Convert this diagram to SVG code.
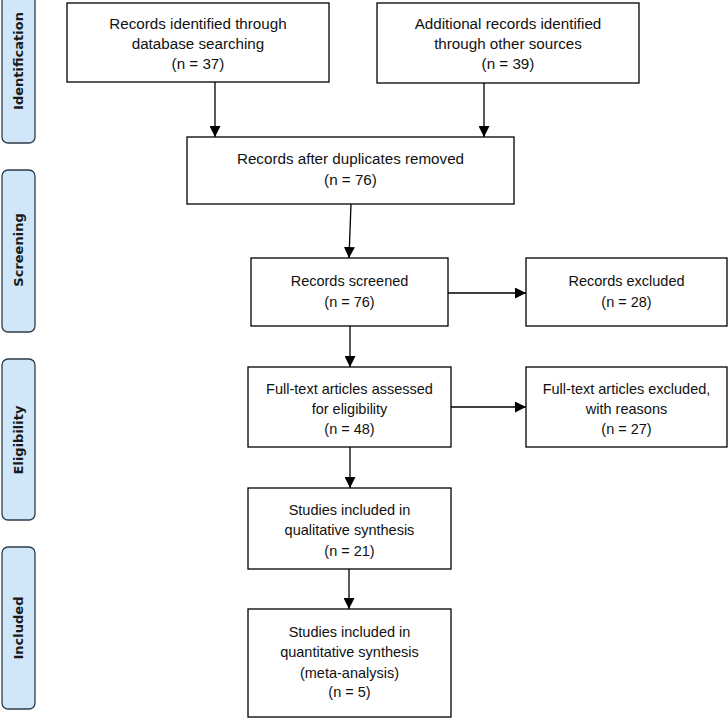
<svg xmlns="http://www.w3.org/2000/svg" width="728" height="718" viewBox="0 0 728 718">
<style>
.box{fill:#fff;stroke:#000;stroke-width:1.3}
.t{font-family:"Liberation Sans",Arial,sans-serif;font-size:14.5px;fill:#111;text-anchor:middle}
.t15{font-size:15.2px}
.phase{fill:#d0e7fa;stroke:#2e3b48;stroke-width:1.3}
.pt{font-family:"DejaVu Sans",Verdana,sans-serif;font-weight:bold;font-size:13px;fill:#1a1a1a;text-anchor:middle}
.c{stroke:#000;stroke-width:1.3;fill:none;marker-end:url(#ah)}
</style>
<defs>
<marker id="ah" markerUnits="userSpaceOnUse" markerWidth="11" markerHeight="11" refX="11" refY="5.5" orient="auto">
<path d="M0,0 L11,5.5 L0,11 z" fill="#000"/>
</marker>
</defs>
<rect width="728" height="718" fill="#fff"/>
<g id="phase-identification">
<rect class="phase" x="2" y="-21" width="33" height="164" rx="6"/>
<text class="pt" transform="translate(23,61) rotate(-90)">Identification</text>
</g>
<g id="phase-screening">
<rect class="phase" x="2" y="170" width="33" height="162" rx="6"/>
<text class="pt" transform="translate(23,250) rotate(-90)">Screening</text>
</g>
<g id="phase-eligibility">
<rect class="phase" x="2" y="359" width="33" height="161" rx="6"/>
<text class="pt" transform="translate(23,440) rotate(-90)">Eligibility</text>
</g>
<g id="phase-included">
<rect class="phase" x="2" y="547" width="33" height="162" rx="6"/>
<text class="pt" transform="translate(23,628) rotate(-90)">Included</text>
</g>
<g id="connectors">
<line class="c" x1="215" y1="82" x2="215" y2="137"/>
<line class="c" x1="484" y1="83" x2="484" y2="137"/>
<line class="c" x1="351" y1="204" x2="349" y2="258"/>
<line class="c" x1="350" y1="326" x2="350" y2="367"/>
<line class="c" x1="448" y1="293" x2="526" y2="293"/>
<line class="c" x1="350" y1="447" x2="350" y2="488"/>
<line class="c" x1="451" y1="407" x2="526" y2="407"/>
<line class="c" x1="349" y1="569" x2="349" y2="609"/>
</g>
<g id="n-db">
<rect class="box" x="67" y="3" width="262" height="79"/>
<text class="t t15" x="198" y="29">Records identified through</text>
<text class="t t15" x="198" y="49">database searching</text>
<text class="t t15" x="198" y="69">(n = 37)</text>
</g>
<g id="n-other">
<rect class="box" x="377" y="3" width="262" height="80"/>
<text class="t t15" x="508" y="29">Additional records identified</text>
<text class="t t15" x="508" y="49">through other sources</text>
<text class="t t15" x="508" y="69">(n = 39)</text>
</g>
<g id="n-dedup">
<rect class="box" x="187" y="137" width="327" height="67"/>
<text class="t t15" x="350.5" y="164">Records after duplicates removed</text>
<text class="t t15" x="350.5" y="185">(n = 76)</text>
</g>
<g id="n-screened">
<rect class="box" x="251" y="258" width="197" height="68"/>
<text class="t" x="349.5" y="286">Records screened</text>
<text class="t" x="349.5" y="307">(n = 76)</text>
</g>
<g id="n-excluded">
<rect class="box" x="526" y="258" width="201" height="68"/>
<text class="t" x="626.5" y="286">Records excluded</text>
<text class="t" x="626.5" y="307">(n = 28)</text>
</g>
<g id="n-fulltext">
<rect class="box" x="248" y="367" width="203" height="80"/>
<text class="t" x="349.5" y="394">Full-text articles assessed</text>
<text class="t" x="349.5" y="414">for eligibility</text>
<text class="t" x="349.5" y="434">(n = 48)</text>
</g>
<g id="n-ftexcluded">
<rect class="box" x="526" y="367" width="201" height="80"/>
<text class="t" x="626.5" y="394">Full-text articles excluded,</text>
<text class="t" x="626.5" y="414">with reasons</text>
<text class="t" x="626.5" y="434">(n = 27)</text>
</g>
<g id="n-qualitative">
<rect class="box" x="248" y="488" width="203" height="81"/>
<text class="t" x="349.5" y="515">Studies included in</text>
<text class="t" x="349.5" y="535">qualitative synthesis</text>
<text class="t" x="349.5" y="556">(n = 21)</text>
</g>
<g id="n-quantitative">
<rect class="box" x="248" y="609" width="203" height="108"/>
<text class="t" x="349.5" y="637">Studies included in</text>
<text class="t" x="349.5" y="657">quantitative synthesis</text>
<text class="t" x="349.5" y="678">(meta-analysis)</text>
<text class="t" x="349.5" y="697">(n = 5)</text>
</g>
</svg>
